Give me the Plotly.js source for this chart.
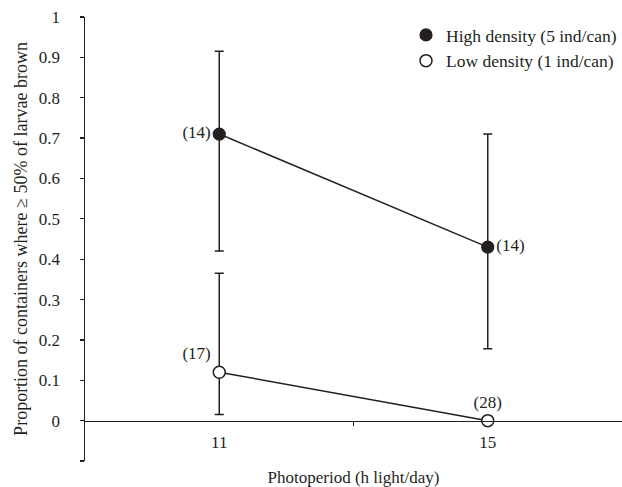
<!DOCTYPE html>
<html>
<head>
<meta charset="utf-8">
<script src="https://cdn.plot.ly/plotly-3.0.1.min.js"></script>
<style>html,body{margin:0;padding:0;background:#fff;}#chart{width:622px;height:487px;}</style>
</head>
<body>
<div id="chart"></div>
<script>
// Data
const photoperiod = [11, 15];
const highDensity = [0.71, 0.43];
const highUpper = [0.915, 0.71];
const highLower = [0.42, 0.178];
const highN = ['(14)', '(14)'];
const lowDensity = [0.12, 0];
const lowUpper = [0.365, 0];
const lowLower = [0.015, 0];
const lowN = ['(17)', '(28)'];
const yTickVals = [-0.1, 0, 0.1, 0.2, 0.3, 0.4, 0.5, 0.6, 0.7, 0.8, 0.9, 1];
const yTickText = ['', '0', '0.1', '0.2', '0.3', '0.4', '0.5', '0.6', '0.7', '0.8', '0.9', '1'];
const xTickVals = [11, 15];
const xTickText = ['11', '15'];

const ink = '#231f20';
const fontFam = 'Liberation Serif, Times New Roman, serif';

function errs(vals, up, lo) {
  return {
    type: 'data', symmetric: false,
    array: up.map((u, i) => u - vals[i]),
    arrayminus: lo.map((l, i) => vals[i] - l),
    color: ink, thickness: 1.5, width: 4.5
  };
}

const traces = [
  {
    x: photoperiod, y: highDensity, mode: 'lines', showlegend: false,
    line: {color: ink, width: 1.5}, error_y: errs(highDensity, highUpper, highLower),
    hoverinfo: 'skip'
  },
  {
    x: photoperiod, y: lowDensity, mode: 'lines', showlegend: false,
    line: {color: ink, width: 1.5}, error_y: errs(lowDensity, lowUpper, lowLower),
    hoverinfo: 'skip'
  },
  {
    x: photoperiod, y: highDensity, mode: 'markers+text', name: 'High density (5 ind/can)',
    marker: {size: 12, color: ink, line: {color: ink, width: 1.2}},
    text: highN, textposition: ['middle left', 'middle right'],
    textfont: {family: fontFam, size: 17, color: ink}, cliponaxis: false
  },
  {
    x: photoperiod, y: lowDensity, mode: 'markers+text', name: 'Low density (1 ind/can)',
    marker: {size: 12, color: '#ffffff', line: {color: ink, width: 1.5}},
    text: lowN, textposition: ['top left', 'top center'],
    textfont: {family: fontFam, size: 17, color: ink}, cliponaxis: false
  }
];

const layout = {
  width: 622, height: 487,
  margin: {l: 85, r: 0, t: 17, b: 26},
  paper_bgcolor: '#fff', plot_bgcolor: '#fff',
  font: {family: fontFam, size: 17, color: ink},
  showlegend: true,
  legend: {
    x: 1, xanchor: 'right', y: 1, yanchor: 'top',
    font: {family: fontFam, size: 17.5, color: ink},
    bgcolor: 'rgba(0,0,0,0)', tracegroupgap: 0, itemwidth: 30
  },
  xaxis: {
    range: [9, 17], anchor: 'free', position: 0.1 / 1.1,
    showline: true, linecolor: ink, linewidth: 1.5,
    showgrid: false, zeroline: false,
    tickmode: 'array', tickvals: xTickVals, ticktext: xTickText, ticks: '',
    ticklabelstandoff: 5,
    tickfont: {family: fontFam, size: 17, color: ink},
    minor: {tickmode: 'array', tickvals: [13], ticks: 'outside', ticklen: 4, tickcolor: ink, tickwidth: 1.2, showgrid: false},
    title: {text: 'Photoperiod (h light/day)', font: {family: fontFam, size: 17, color: ink}, standoff: 26}
  },
  yaxis: {
    range: [-0.1, 1], showline: true, linecolor: ink, linewidth: 1.5,
    showgrid: false, zeroline: false,
    tickmode: 'array', tickvals: yTickVals, ticktext: yTickText,
    ticks: 'outside', ticklen: 4, tickcolor: ink, tickwidth: 1.2,
    ticklabelstandoff: 16,
    tickfont: {family: fontFam, size: 17, color: ink},
    title: {text: 'Proportion of containers where ≥ 50% of larvae brown', font: {family: fontFam, size: 18, color: ink}, standoff: 6}
  }
};

Plotly.newPlot('chart', traces, layout, {displayModeBar: false, staticPlot: true});
</script>
</body>
</html>
